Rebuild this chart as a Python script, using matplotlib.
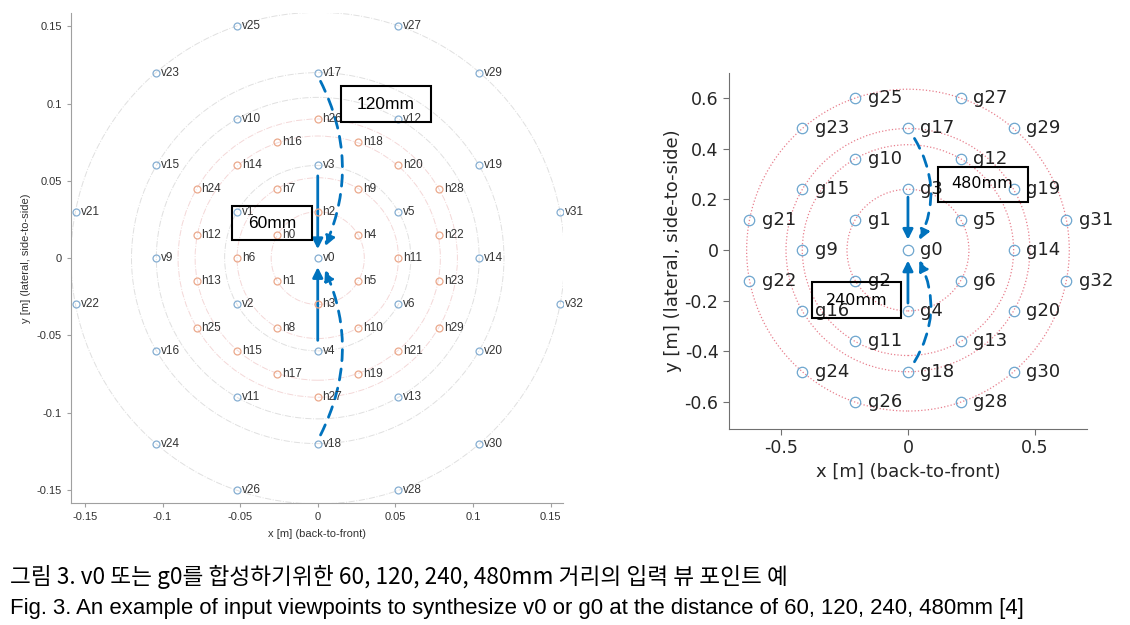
import matplotlib
matplotlib.use("Agg")
import matplotlib.pyplot as plt
from matplotlib.patches import Circle, Rectangle, FancyArrowPatch

# left panel: v (blue) and h (orange) viewpoints
v_names = ["v0", "v1", "v2", "v3", "v4", "v5", "v6",
           "v9", "v10", "v11", "v12", "v13", "v14", "v15", "v16", "v17", "v18", "v19", "v20",
           "v21", "v22", "v23", "v24", "v25", "v26", "v27", "v28", "v29", "v30", "v31", "v32"]
v_x = [0, -0.052, -0.052, 0, 0, 0.052, 0.052,
       -0.104, -0.052, -0.052, 0.052, 0.052, 0.104, -0.104, -0.104, 0, 0, 0.104, 0.104,
       -0.156, -0.156, -0.104, -0.104, -0.052, -0.052, 0.052, 0.052, 0.104, 0.104, 0.156, 0.156]
v_y = [0, 0.03, -0.03, 0.06, -0.06, 0.03, -0.03,
       0, 0.09, -0.09, 0.09, -0.09, 0, 0.06, -0.06, 0.12, -0.12, 0.06, -0.06,
       0.03, -0.03, 0.12, -0.12, 0.15, -0.15, 0.15, -0.15, 0.12, -0.12, 0.03, -0.03]

h_names = ["h0", "h1", "h2", "h3", "h4", "h5", "h6", "h7", "h8", "h9", "h10", "h11",
           "h12", "h13", "h14", "h15", "h16", "h17", "h18", "h19", "h20", "h21", "h22", "h23",
           "h24", "h25", "h26", "h27", "h28", "h29"]
h_x = [-0.026, -0.026, 0, 0, 0.026, 0.026, -0.052, -0.026, -0.026, 0.026, 0.026, 0.052,
       -0.078, -0.078, -0.052, -0.052, -0.026, -0.026, 0.026, 0.026, 0.052, 0.052, 0.078, 0.078,
       -0.078, -0.078, 0, 0, 0.078, 0.078]
h_y = [0.015, -0.015, 0.03, -0.03, 0.015, -0.015, 0, 0.045, -0.045, 0.045, -0.045, 0,
       0.015, -0.015, 0.06, -0.06, 0.075, -0.075, 0.075, -0.075, 0.06, -0.06, 0.015, -0.015,
       0.045, -0.045, 0.09, -0.09, 0.045, -0.045]

v_rings = [0.06, 0.104, 0.12, 0.159]
h_rings = [0.03, 0.052, 0.079, 0.09]

# right panel: g viewpoints
g_names = ["g0", "g1", "g2", "g3", "g4", "g5", "g6",
           "g9", "g10", "g11", "g12", "g13", "g14", "g15", "g16", "g17", "g18", "g19", "g20",
           "g21", "g22", "g23", "g24", "g25", "g26", "g27", "g28", "g29", "g30", "g31", "g32"]
g_x = [0, -0.208, -0.208, 0, 0, 0.208, 0.208,
       -0.416, -0.208, -0.208, 0.208, 0.208, 0.416, -0.416, -0.416, 0, 0, 0.416, 0.416,
       -0.624, -0.624, -0.416, -0.416, -0.208, -0.208, 0.208, 0.208, 0.416, 0.416, 0.624, 0.624]
g_y = [0, 0.12, -0.12, 0.24, -0.24, 0.12, -0.12,
       0, 0.36, -0.36, 0.36, -0.36, 0, 0.24, -0.24, 0.48, -0.48, 0.24, -0.24,
       0.12, -0.12, 0.48, -0.48, 0.6, -0.6, 0.6, -0.6, 0.48, -0.48, 0.12, -0.12]
g_rings = [0.24, 0.416, 0.48, 0.635]

blue = "#0072BD"
fig = plt.figure(figsize=(11.3, 6.25), dpi=100)

# ---------------- left panel ----------------
ax1 = fig.add_axes([0.0628, 0.195, 0.4354, 0.784])
for r in v_rings:
    ax1.add_patch(Circle((0, 0), r, fill=False, ls="-.", lw=0.7, ec="#e0e0e0"))
for r in h_rings:
    ax1.add_patch(Circle((0, 0), r, fill=False, ls="-.", lw=0.7, ec="#f4d8d8"))
ax1.plot(v_x, v_y, "o", ms=5, mfc="none", mec="#86aed2", mew=0.9)
ax1.plot(h_x, h_y, "o", ms=5, mfc="none", mec="#eba98c", mew=0.9)
for n, x, y in zip(v_names, v_x, v_y):
    ax1.annotate(n, (x, y), xytext=(3.5, 0), textcoords="offset points",
                 va="center", ha="left", fontsize=8.5, color="#333333", family="Liberation Sans")
for n, x, y in zip(h_names, h_x, h_y):
    ax1.annotate(n, (x, y), xytext=(3.5, 0), textcoords="offset points",
                 va="center", ha="left", fontsize=8.5, color="#333333", family="Liberation Sans")

arrow_kw = dict(arrowstyle="-|>", mutation_scale=15, color=blue, lw=2)
ax1.add_patch(FancyArrowPatch((0, 0.055), (0, 0.004), **arrow_kw))
ax1.add_patch(FancyArrowPatch((0, -0.055), (0, -0.004), **arrow_kw))
ax1.add_patch(FancyArrowPatch((0.001, 0.116), (0.004, 0.006), connectionstyle="arc3,rad=-0.24",
                              ls=(0, (4, 3)), **arrow_kw))
ax1.add_patch(FancyArrowPatch((0.001, -0.116), (0.004, -0.006), connectionstyle="arc3,rad=0.24",
                              ls=(0, (4, 3)), **arrow_kw))

left_boxes = [("60mm", -0.0554, 0.0117, 0.0515, 0.022, -0.0296, 0.0227),
              ("120mm", 0.0148, 0.088, 0.0579, 0.0233, 0.0438, 0.0997)]
for txt, x0, y0, w, h, tx, ty in left_boxes:
    ax1.add_patch(Rectangle((x0, y0), w, h, fill=False, ec="black", lw=1.5, zorder=5))
    ax1.text(tx, ty, txt, ha="center", va="center", fontsize=12.5, family="Liberation Sans", zorder=6)

ax1.set_xlim(-0.159, 0.158)
ax1.set_ylim(-0.1585, 0.1585)
ax1.set_xticks([-0.15, -0.1, -0.05, 0, 0.05, 0.1, 0.15])
ax1.set_xticklabels(["-0.15", "-0.1", "-0.05", "0", "0.05", "0.1", "0.15"])
ax1.set_yticks([-0.15, -0.1, -0.05, 0, 0.05, 0.1, 0.15])
ax1.set_yticklabels(["-0.15", "-0.1", "-0.05", "0", "0.05", "0.1", "0.15"])
for s in ["top", "right"]:
    ax1.spines[s].set_visible(False)
for s in ["left", "bottom"]:
    ax1.spines[s].set_color("#a0a0a0")
ax1.tick_params(length=3, color="#a0a0a0", labelsize=8, labelcolor="#333333")
for lab in ax1.get_xticklabels() + ax1.get_yticklabels():
    lab.set_family("Liberation Sans")
ax1.set_xlabel("x [m] (back-to-front)", fontsize=8, family="Liberation Sans", color="#333333", labelpad=5)
ax1.set_ylabel("y [m] (lateral, side-to-side)", fontsize=8, family="Liberation Sans", color="#333333", labelpad=4)

# ---------------- right panel ----------------
ax2 = fig.add_axes([0.645, 0.314, 0.317, 0.5696])
for r in g_rings:
    ax2.add_patch(Circle((0, 0), r, fill=False, ls=":", lw=0.9, ec="#e8808e"))
ax2.plot(g_x, g_y, "o", ms=7.5, mfc="none", mec="#6ea6cf", mew=0.9)
for n, x, y in zip(g_names, g_x, g_y):
    ax2.annotate(n, (x, y), xytext=(9, 0), textcoords="offset points",
                 va="center", ha="left", fontsize=13, color="#222222", family="DejaVu Sans")

ax2.add_patch(FancyArrowPatch((0, 0.22), (0, 0.03), **arrow_kw))
ax2.add_patch(FancyArrowPatch((0, -0.22), (0, -0.03), **arrow_kw))
ax2.add_patch(FancyArrowPatch((0.02, 0.45), (0.04, 0.03), connectionstyle="arc3,rad=-0.28",
                              ls=(0, (4, 3)), **arrow_kw))
ax2.add_patch(FancyArrowPatch((0.02, -0.45), (0.04, -0.03), connectionstyle="arc3,rad=0.28",
                              ls=(0, (4, 3)), **arrow_kw))

right_boxes = [("480mm", 0.118, 0.19, 0.354, 0.139, 0.29, 0.262),
               ("240mm", -0.378, -0.266, 0.35, 0.139, -0.2, -0.198)]
for txt, x0, y0, w, h, tx, ty in right_boxes:
    ax2.add_patch(Rectangle((x0, y0), w, h, fill=False, ec="black", lw=1.5, zorder=5))
    ax2.text(tx, ty, txt, ha="center", va="center", fontsize=11.5, family="DejaVu Sans", zorder=6)

ax2.set_xlim(-0.705, 0.705)
ax2.set_ylim(-0.705, 0.7)
ax2.set_xticks([-0.5, 0, 0.5])
ax2.set_xticklabels(["-0.5", "0", "0.5"])
ax2.set_yticks([-0.6, -0.4, -0.2, 0, 0.2, 0.4, 0.6])
ax2.set_yticklabels(["-0.6", "-0.4", "-0.2", "0", "0.2", "0.4", "0.6"])
for s in ["top", "right"]:
    ax2.spines[s].set_visible(False)
for s in ["left", "bottom"]:
    ax2.spines[s].set_color("#707070")
ax2.tick_params(length=4, color="#707070", labelsize=12.5, labelcolor="#262626")
ax2.set_xlabel("x [m] (back-to-front)", fontsize=13, color="#262626", labelpad=4)
ax2.set_ylabel("y [m] (lateral, side-to-side)", fontsize=13, color="#262626", labelpad=2)

# ---------------- captions ----------------
fig.text(0.009, 0.077, "그림 3. v0 또는 g0를 합성하기위한 60, 120, 240, 480mm 거리의 입력 뷰 포인트 예",
         fontsize=16.3, family=["Noto Sans CJK KR", "DejaVu Sans"], va="center", ha="left")
fig.text(0.009, 0.027, "Fig. 3. An example of input viewpoints to synthesize v0 or g0 at the distance of 60, 120, 240, 480mm [4]",
         fontsize=15.9, family=["Liberation Sans"], va="center", ha="left")

fig.savefig("out.png", dpi=100)
